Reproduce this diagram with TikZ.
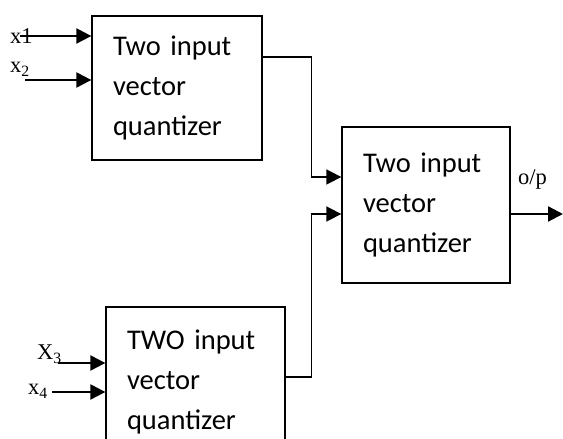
\documentclass[tikz,border=0pt]{standalone}
\usepackage{fontspec}
\setmainfont{Liberation Serif}
\newfontfamily\boxfont{Carlito}
\usetikzlibrary{positioning,calc,arrows.meta}

\tikzset{
  quant/.style={draw=black,line width=1.3pt,inner xsep=21pt,inner ysep=0pt,align=left,
    font=\boxfont\fontsize{28.5}{40}\selectfont},
  lbl/.style={inner sep=0pt,anchor=base west,font=\fontsize{22.5}{26}\selectfont},
  link/.style={line width=1.6pt,-{Triangle[length=15pt,width=15pt]}},
}

\begin{document}
\begin{tikzpicture}[x=1pt,y=1pt]
		\useasboundingbox (0,0) rectangle (563,439);
		\clip (0,0) rectangle (563,439);
		\node[quant,minimum width=170pt,minimum height=144pt,text width=128pt] (q1) at (177,351) {Two input\\vector\\quantizer};
		\node[quant,minimum width=168pt,minimum height=156pt,text width=126pt] (q2) at (426,234) {Two input\\vector\\quantizer};
		\node[quant,minimum width=179pt,minimum height=150pt,text width=137pt] (q3) at (195.5,57) {TWO input\\vector\\quantizer};
		
		\node[lbl] (xa) at (10,395) {x1};
		\node[lbl] (xb) at (10,366) {x\textsubscript{2}};
		\node[lbl] (xc) at (37,79) {X\textsubscript{3}};
		\node[lbl] (xd) at (28,44) {x\textsubscript{4}};
		\node[lbl] (op) at (518,254) {o/p};
		
		\coordinate (in1) at (20,403);
		\coordinate (in2) at (25,359);
		\coordinate (in3) at (58,76);
		\coordinate (in4) at (52,47);
		\coordinate (out) at (563,225);
		
		\draw[link,line width=2.2pt] (in1)--(in1 -| q1.west);
		\draw[link,line width=2.2pt] (in2)--(in2 -| q1.west);
		\draw[link,line width=2.2pt] (in3)--(in3 -| q3.west);
		\draw[link,line width=2.2pt] (in4)--(in4 -| q3.west);
		
		\draw[link] ([yshift=31pt]q1.east) -| ([xshift=-30pt,yshift=28pt]q2.west) -- ([yshift=28pt]q2.west);
		\draw[link] ([yshift=5pt]q3.east) -| ([xshift=-30pt,yshift=-9pt]q2.west) -- ([yshift=-9pt]q2.west);
		\draw[link,line width=2.2pt] ([yshift=-9pt]q2.east)--(out);
	\end{tikzpicture}
\end{document}
